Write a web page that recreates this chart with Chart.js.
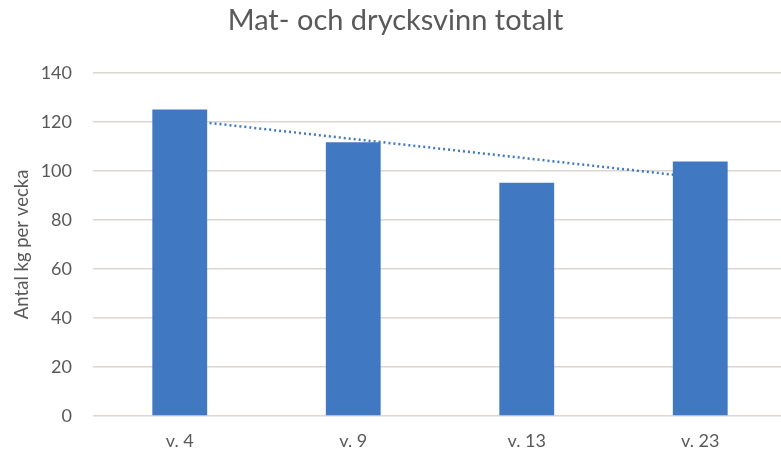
<!DOCTYPE html>
<html>
<head>
<meta charset="utf-8">
<script src="https://cdn.jsdelivr.net/npm/chart.js@4.4.1/dist/chart.umd.min.js"></script>
<style>
  html, body { margin: 0; padding: 0; background: #fff; overflow: hidden; }
</style>
</head>
<body>
<canvas id="myChart" width="792" height="457"></canvas>
<script>
// data
var weeks = ['v. 4', 'v. 9', 'v. 13', 'v. 23'];
var kgPerWeek = [125, 111.7, 95.1, 103.8];
var trend = [120.9, 113.0, 105.1, 97.2];
var yTicks = [0, 20, 40, 60, 80, 100, 120, 140];

var blue = '#4178c2';
var grey = '#595959';

Chart.defaults.font.family = 'Lato, "Open Sans", sans-serif';
Chart.defaults.color = grey;

var ctx = document.getElementById('myChart');

var myChart = new Chart(ctx, {
  type: 'bar',
  data: {
    labels: weeks,
    datasets: [{
      type: 'bar',
      label: 'Totalt',
      data: kgPerWeek,
      backgroundColor: blue,
      categoryPercentage: 1,
      barPercentage: 0.316,
      order: 1
    }, {
      type: 'line',
      label: 'Trend',
      data: trend,
      borderColor: blue,
      borderWidth: 2.5,
      borderDash: [2, 3],
      pointRadius: 0,
      fill: false,
      order: 2
    }]
  },
  options: {
    responsive: false,
    animation: false,
    layout: { padding: { left: 4, right: 5, top: 0, bottom: 4 } },
    plugins: {
      legend: { display: false },
      tooltip: { enabled: false },
      title: {
        display: true,
        text: 'Mat- och drycksvinn totalt',
        font: { size: 29, weight: 'normal' },
        color: grey,
        padding: { top: 3, bottom: 35 }
      }
    },
    scales: {
      x: {
        grid: { display: false, drawTicks: false },
        border: { display: false },
        ticks: { font: { size: 18 }, color: grey, padding: 14 },
        afterFit: function (axis) {
          axis.height = 37;
        }
      },
      y: {
        min: 0,
        max: 140,
        afterBuildTicks: function (axis) {
          axis.ticks = yTicks.map(function (v) { return { value: v }; });
        },
        afterFit: function (axis) {
          axis.width = 89;
        },
        grid: { color: '#dcd6d2', lineWidth: 1.5, drawTicks: false },
        border: { display: false },
        ticks: { font: { size: 18 }, color: grey, padding: 21 },
        title: {
          display: true,
          text: 'Antal kg per vecka',
          font: { size: 18.5 },
          color: grey,
          padding: { top: 7, bottom: 4 }
        }
      }
    }
  }
});
</script>
</body>
</html>
